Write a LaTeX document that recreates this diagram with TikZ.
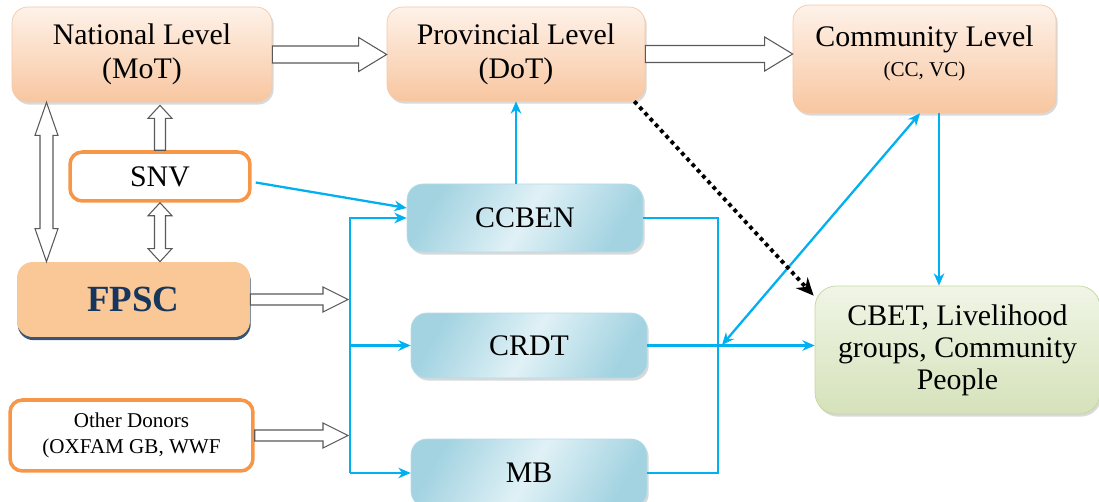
\documentclass[tikz,border=0pt]{standalone}
\usepackage{fontspec}
\setmainfont{Liberation Serif}
\usetikzlibrary{positioning, calc, shadows, arrows.meta}

\definecolor{lvltop}{HTML}{FEF2E9}
\definecolor{lvlbot}{HTML}{F8C6A0}
\definecolor{lvlline}{HTML}{F6C9A6}
\definecolor{fpscfill}{HTML}{FAC896}
\definecolor{navy}{HTML}{17365D}
\definecolor{donline}{HTML}{F79646}
\definecolor{orgtop}{HTML}{A3D3E1}
\definecolor{orgmid}{HTML}{E0F1F6}
\definecolor{orgline}{HTML}{B4DCE7}
\definecolor{grntop}{HTML}{F0F5E6}
\definecolor{grnbot}{HTML}{D5E2BA}
\definecolor{grnline}{HTML}{C4D79F}
\definecolor{cyanline}{HTML}{00B0F0}

\begin{document}
\begin{tikzpicture}[x=0.02cm, y=-0.02cm, >={Stealth[length=7pt, width=6pt]},
  txt/.style={font=\fontsize{17}{19.5}\selectfont, align=center, text=black},
  lvl/.style={txt, draw=lvlline, rounded corners=9pt, top color=lvltop, bottom color=lvlbot,
    drop shadow={opacity=0.3, shadow xshift=1pt, shadow yshift=-1.5pt}},
  donor/.style={txt, draw=donline, line width=2pt, rounded corners=7pt, fill=white},
  org/.style={txt, draw=orgline, rounded corners=9pt, left color=orgtop, right color=orgtop,
    middle color=orgmid, shading angle=60,
    drop shadow={opacity=0.3, shadow xshift=1pt, shadow yshift=-1.5pt}},
  grp/.style={txt, draw=grnline, rounded corners=12pt, top color=grntop, bottom color=grnbot,
    drop shadow={opacity=0.3, shadow xshift=1pt, shadow yshift=-1.5pt}},
  link/.style={draw=cyanline, line width=1.3pt},
  % block arrow: half shaft width, half head width, head length
  hollow/.style n args={3}{draw=black!65, fill=white, line width=0.6pt,
    to path={($(\tikztostart)!#1!90:(\tikztotarget)$)
      -- ($(\tikztotarget)!#3!(\tikztostart)!#1!-90:(\tikztostart)$)
      -- ($(\tikztotarget)!#3!(\tikztostart)!#2!-90:(\tikztostart)$)
      -- (\tikztotarget)
      -- ($(\tikztotarget)!#3!(\tikztostart)!#2!90:(\tikztostart)$)
      -- ($(\tikztotarget)!#3!(\tikztostart)!#1!90:(\tikztostart)$)
      -- ($(\tikztostart)!#1!-90:(\tikztotarget)$) -- cycle}},
  hollowboth/.style n args={3}{draw=black!65, fill=white, line width=0.6pt,
    to path={(\tikztostart)
      -- ($(\tikztostart)!#3!(\tikztotarget)!#2!90:(\tikztotarget)$)
      -- ($(\tikztostart)!#3!(\tikztotarget)!#1!90:(\tikztotarget)$)
      -- ($(\tikztotarget)!#3!(\tikztostart)!#1!-90:(\tikztostart)$)
      -- ($(\tikztotarget)!#3!(\tikztostart)!#2!-90:(\tikztostart)$)
      -- (\tikztotarget)
      -- ($(\tikztotarget)!#3!(\tikztostart)!#2!90:(\tikztostart)$)
      -- ($(\tikztotarget)!#3!(\tikztostart)!#1!90:(\tikztostart)$)
      -- ($(\tikztostart)!#3!(\tikztotarget)!#1!-90:(\tikztotarget)$)
      -- ($(\tikztostart)!#3!(\tikztotarget)!#2!-90:(\tikztotarget)$) -- cycle}}]

  \useasboundingbox (0,0) rectangle (1099,502);

  % levels
  \node[lvl, minimum width=5.2cm, minimum height=1.9cm]  (nat)  at (142,54.5)  {National Level\\(MoT)};
  \node[lvl, minimum width=5.16cm, minimum height=1.88cm] (prov) at (516,54)    {Provincial Level\\(DoT)};
  \node[lvl, minimum width=5.26cm, minimum height=2.16cm] (comm) at (924.5,59)
    {\raisebox{2.6pt}[\height][\depth]{\begin{tabular}{@{}c@{}}Community Level\\[-2.5pt]{\fontsize{12}{14}\selectfont (CC, VC)}\end{tabular}}};

  % donors
  \node[donor, minimum width=3.6cm, minimum height=0.98cm] (snv) at (160,176.5) {SNV};
  \node[txt, draw=none, rounded corners=9pt, fill=fpscfill, minimum width=4.66cm, minimum height=1.5cm,
        font=\fontsize{21}{24}\selectfont\bfseries, text=navy,
        drop shadow={fill=navy, opacity=0.85, shadow xshift=0.4pt, shadow yshift=-1.8pt}] (fpsc) at (133.5,299.5) {FPSC};
  \node[donor, minimum width=4.86cm, minimum height=1.42cm, font=\fontsize{12}{15}\selectfont] (other) at (131.5,435.5) {Other Donors\\(OXFAM GB, WWF};

  % local partners
  \node[org, minimum width=4.72cm, minimum height=1.36cm] (ccben) at (525,218)   {CCBEN};
  \node[org, minimum width=4.72cm, minimum height=1.3cm]  (crdt)  at (529,345.5) {CRDT};
  \node[org, minimum width=4.72cm, minimum height=1.36cm] (mb)    at (529,473)   {MB};

  \node[grp, minimum width=5.7cm, minimum height=2.56cm, font=\fontsize{17}{18.2}\selectfont] (cbet) at (957.5,350)
    {CBET, Livelihood\\groups, Community\\People};

  \coordinate (lx)     at (46.5,0);
  \coordinate (bus)    at (350,0);
  \coordinate (busin)  at (348,0);
  \coordinate (rbus)   at (718,0);
  \coordinate (drop)   at (939,0);
  \coordinate (cross)  at (722,345);
  \coordinate (snvtop) at ($(snv.north |- nat.south)+(0,3)$);

  % block arrows
  \draw[hollow={0.17cm}{0.34cm}{0.56cm}] (nat.east) to (nat.east -| prov.west);
  \draw[hollow={0.17cm}{0.34cm}{0.56cm}] (prov.east) to (prov.east -| comm.west);
  \draw[hollowboth={0.13cm}{0.23cm}{0.66cm}] (lx |- nat.south) to (lx |- fpsc.north);
  \draw[hollow={0.11cm}{0.24cm}{0.26cm}] (snv.north) to (snvtop);
  \draw[hollowboth={0.11cm}{0.24cm}{0.26cm}] (snv.south) to (snv.south |- fpsc.north);
  \draw[hollow={0.11cm}{0.25cm}{0.5cm}] (fpsc.east) to (busin |- fpsc.east);
  \draw[hollow={0.11cm}{0.25cm}{0.5cm}] (other.east) to (busin |- other.east);

  % blue links
  \draw[link, ->] (bus |- mb.west) |- (ccben.west);
  \draw[link, ->] (bus |- crdt.west) -- (crdt.west);
  \draw[link, ->] (bus |- mb.west) -- (mb.west);
  \draw[link, ->] ($(snv.east)+(4,6)$) -- ($(ccben.west)+(0,-10)$);
  \draw[link, ->] (ccben.north -| prov.south) -- (prov.south);
  \draw[link] (ccben.east) -| (rbus |- mb.east) -- (mb.east);
  \draw[link, ->] (crdt.east) -- (crdt.east -| cbet.west);
  \draw[link, <->] (cross) -- ($(comm.south)+(-4.5,0)$);
  \draw[link, ->] (comm.south -| drop) -- (cbet.north -| drop);

  % dotted link
  \draw[black, line width=2.2pt, dash pattern=on 2.2pt off 2.2pt, -{Stealth[length=10pt, width=9pt]}]
    ($(prov.south east)+(-11,0)$) -- ($(cbet.north west)+(-1,10)$);
\end{tikzpicture}
\end{document}
